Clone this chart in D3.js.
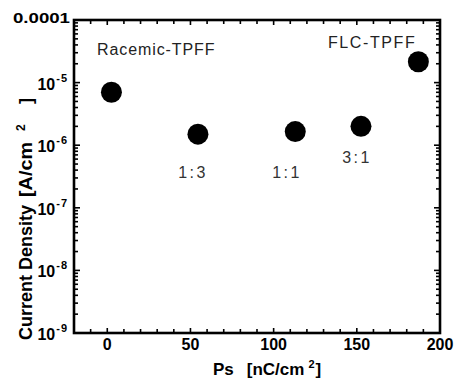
<!DOCTYPE html>
<html>
<head>
<meta charset="utf-8">
<script src="https://cdn.jsdelivr.net/npm/d3@7"></script>
<style>
  body { margin: 0; background: #fff; }
  svg { display: block; font-family: "Liberation Sans", Arial, sans-serif; }
</style>
</head>
<body>
<div id="chart"></div>
<script>
// data
const ps = [2.5, 54.5, 113, 152.5, 187];
const currentDensity = [7.0e-6, 1.5e-6, 1.65e-6, 2.0e-6, 2.15e-5];
const xTicks = [0, 50, 100, 150, 200];
const yTicks = [1e-9, 1e-8, 1e-7, 1e-6, 1e-5, 1e-4];
const ratioLabels = ["1:3", "1:1", "3:1"];

const W = 454, H = 380;
const m = {left: 74, right: 14, top: 20, bottom: 47};

const svg = d3.select("#chart").append("svg")
  .attr("width", W).attr("height", H);

const x = d3.scaleLinear().domain([-20, 200]).range([m.left, W - m.right]);
const y = d3.scaleLog().domain([1e-9, 1e-4]).range([H - m.bottom, m.top]);

const x0 = x.range()[0], x1 = x.range()[1];
const y0 = y.range()[0], y1 = y.range()[1];

// ticks, inward on all four sides
const minorX = d3.range(-20, 201, 10);
const ticksG = svg.append("g").attr("stroke", "#000").attr("stroke-width", 1.6);
minorX.forEach(v => {
  const len = v % 50 === 0 ? 5 : 4;
  ticksG.append("line").attr("x1", x(v)).attr("x2", x(v)).attr("y1", y0).attr("y2", y0 - len);
  ticksG.append("line").attr("x1", x(v)).attr("x2", x(v)).attr("y1", y1).attr("y2", y1 + len);
});
const minorY = [];
for (let e = -9; e < -4; e++) {
  for (let k = 1; k < 10; k++) minorY.push(k * Math.pow(10, e));
}
minorY.push(1e-4);
minorY.forEach(v => {
  const major = Math.abs(Math.log10(v) - Math.round(Math.log10(v))) < 1e-9;
  const len = major ? 6 : 4;
  ticksG.append("line").attr("x1", x0).attr("x2", x0 + len).attr("y1", y(v)).attr("y2", y(v));
  ticksG.append("line").attr("x1", x1).attr("x2", x1 - len).attr("y1", y(v)).attr("y2", y(v));
});

// frame
svg.append("rect")
  .attr("x", x0).attr("y", y1)
  .attr("width", x1 - x0).attr("height", y0 - y1)
  .attr("fill", "none").attr("stroke", "#000").attr("stroke-width", 2.6);

// x tick labels
svg.append("g").selectAll("text").data(xTicks).join("text")
  .attr("x", d => x(d)).attr("y", y0 + 17)
  .attr("text-anchor", "middle")
  .attr("font-size", 16).attr("font-weight", "bold")
  .text(d => d);

// y tick labels
const yl = svg.append("g");
yTicks.forEach(v => {
  const e = Math.round(Math.log10(v));
  if (e === -4) {
    yl.append("text").attr("x", 13).attr("y", y(v) + 3)
      .attr("font-size", 15).attr("font-weight", "bold")
      .attr("textLength", 57).attr("lengthAdjust", "spacingAndGlyphs")
      .text("0.0001");
  } else {
    const t = yl.append("text").attr("x", 68).attr("y", y(v) + 7)
      .attr("text-anchor", "end").attr("font-weight", "bold");
    t.append("tspan").attr("font-size", 16).text("10");
    t.append("tspan").attr("font-size", 11).attr("dx", 1).attr("dy", -8)
      .attr("letter-spacing", 1).text(String(e));
  }
});

// axis titles
const xt = svg.append("text")
  .attr("x", 213).attr("y", 375)
  .attr("font-size", 17).attr("font-weight", "bold");
xt.append("tspan").text("Ps");
xt.append("tspan").attr("dx", 13).text("[nC/cm");
xt.append("tspan").attr("font-size", 11).attr("dx", 4).attr("dy", -7).text("2");
xt.append("tspan").attr("dx", 1).attr("dy", 7).text("]");

// y title built from pieces placed along the rotated axis
const yTitle = [
  {t: "Current Density", at: 340, size: 18, off: 0},
  {t: "[A/cm", at: 197, size: 18, off: 0, len: 55},
  {t: "2", at: 131, size: 12, off: -7},
  {t: "]", at: 104, size: 18, off: 0}
];
yTitle.forEach(s => {
  const el = svg.append("text")
    .attr("transform", `translate(${32 + s.off},${s.at}) rotate(-90)`)
    .attr("font-size", s.size).attr("font-weight", "bold")
    .text(s.t);
  if (s.len) el.attr("textLength", s.len).attr("lengthAdjust", "spacingAndGlyphs");
});

// points
svg.append("g").selectAll("circle").data(ps).join("circle")
  .attr("cx", d => x(d))
  .attr("cy", (d, i) => y(currentDensity[i]))
  .attr("r", 10.5)
  .attr("fill", "#000");

// annotations
svg.append("text").attr("x", 97).attr("y", 55)
  .attr("font-size", 16).attr("letter-spacing", 0.9).attr("fill", "#222")
  .text("Racemic-TPFF");
svg.append("text").attr("x", 328).attr("y", 48)
  .attr("font-size", 16).attr("letter-spacing", 1.6).attr("fill", "#222")
  .text("FLC-TPFF");

const ratioPos = [[193, 178], [287, 178], [357, 163]];
svg.append("g").selectAll("text").data(ratioLabels).join("text")
  .attr("x", (d, i) => ratioPos[i][0]).attr("y", (d, i) => ratioPos[i][1])
  .attr("text-anchor", "middle").attr("font-size", 16).attr("fill", "#333")
  .attr("letter-spacing", 2.5)
  .text(d => d);
</script>
</body>
</html>
